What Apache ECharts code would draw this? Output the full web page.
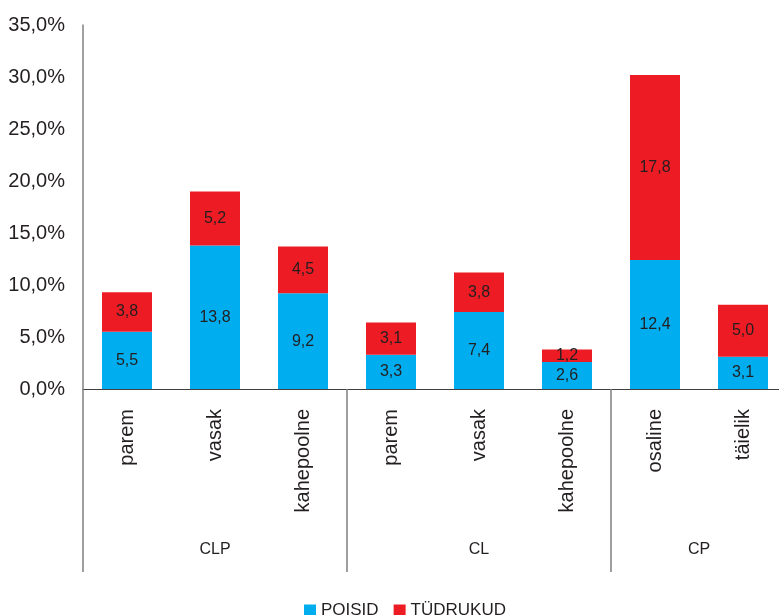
<!DOCTYPE html>
<html>
<head>
<meta charset="utf-8">
<script src="https://cdn.jsdelivr.net/npm/echarts@6/dist/echarts.min.js"></script>
<style>
  html, body { margin: 0; padding: 0; background: #fff; overflow: hidden; }
  #chart { width: 790px; height: 615px; }
</style>
</head>
<body>
<div id="chart"></div>
<script>
const categories = ['parem', 'vasak', 'kahepoolne', 'parem', 'vasak', 'kahepoolne', 'osaline', 'täielik']
const poisid = [5.5, 13.8, 9.2, 3.3, 7.4, 2.6, 12.4, 3.1]
const tydrukud = [3.8, 5.2, 4.5, 3.1, 3.8, 1.2, 17.8, 5.0]

// group axis in half-category steps: labels at group middles, ticks at group edges
const groupSlots = ['', '', '', 'CLP', '', '', '', '', '', 'CL', '', '', '', '', 'CP', '', '']
const groupEdges = [0, 6, 12, 16]

const textColor = '#231F20'
const font = 'Liberation Sans, Arial, sans-serif'
const comma = v => v.toFixed(1).replace('.', ',')

const chart = echarts.init(document.getElementById('chart'))

const barLabel = {
  show: true,
  position: 'inside',
  color: textColor,
  fontFamily: font,
  fontSize: 16,
  formatter: p => comma(p.value)
}

chart.setOption({
  animation: false,
  textStyle: { fontFamily: font },
  grid: { left: 83, top: 25, width: 704, height: 364 },
  legend: {
    top: 597,
    left: 299,
    itemWidth: 12,
    itemHeight: 12,
    itemGap: 15,
    icon: 'rect',
    textStyle: { color: textColor, fontSize: 17, fontFamily: font },
    data: ['POISID', 'TÜDRUKUD']
  },
  xAxis: [
    {
      type: 'category',
      data: categories,
      axisLine: { lineStyle: { color: '#404040', width: 1 } },
      axisTick: { show: false },
      axisLabel: {
        rotate: 90,
        margin: 20,
        interval: 0,
        color: textColor,
        fontSize: 20,
        fontFamily: font
      }
    },
    {
      type: 'category',
      position: 'bottom',
      boundaryGap: false,
      data: groupSlots,
      axisLine: { show: false },
      axisTick: {
        show: true,
        length: 183,
        interval: i => groupEdges.includes(i),
        lineStyle: { color: '#808080', width: 1.5 }
      },
      axisLabel: {
        margin: 153,
        interval: i => groupSlots[i] !== '',
        color: textColor,
        fontSize: 16,
        fontFamily: font
      }
    }
  ],
  yAxis: {
    type: 'value',
    min: 0,
    max: 35,
    interval: 5,
    axisLine: { show: true, lineStyle: { color: '#808080', width: 1.5 } },
    axisTick: { show: false },
    splitLine: { show: false },
    axisLabel: {
      margin: 18,
      color: textColor,
      fontSize: 20,
      fontFamily: font,
      formatter: v => comma(v) + '%'
    }
  },
  series: [
    {
      name: 'POISID',
      type: 'bar',
      stack: 'total',
      barWidth: 50,
      itemStyle: { color: '#00AEEF' },
      label: barLabel,
      data: poisid
    },
    {
      name: 'TÜDRUKUD',
      type: 'bar',
      stack: 'total',
      barWidth: 50,
      itemStyle: { color: '#ED1C24' },
      label: barLabel,
      data: tydrukud
    }
  ]
})
</script>
</body>
</html>
